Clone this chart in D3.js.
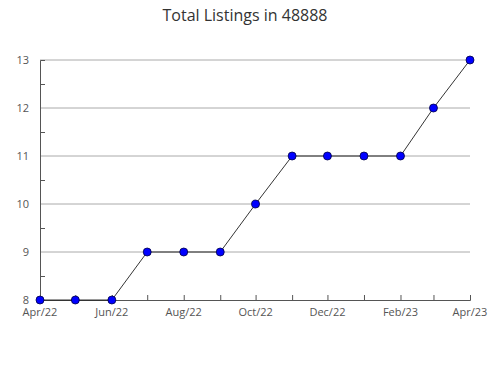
<!DOCTYPE html>
<html>
<head>
<meta charset="utf-8">
<script src="https://cdn.jsdelivr.net/npm/d3@7"></script>
<style>
  body { margin: 0; background: #fff; }
  svg { display: block; font-family: "Open Sans", "DejaVu Sans", sans-serif; }
</style>
</head>
<body>
<svg id="chart" width="490" height="380"></svg>
<script>
const title = "Total Listings in 48888";
const months = ["2022-04","2022-05","2022-06","2022-07","2022-08","2022-09","2022-10",
                "2022-11","2022-12","2023-01","2023-02","2023-03","2023-04"];
const listings = [8, 8, 8, 9, 9, 9, 10, 11, 11, 11, 11, 12, 13];
const yTicks = [8, 9, 10, 11, 12, 13];
const xLabelMonths = ["2022-04","2022-06","2022-08","2022-10","2022-12","2023-02","2023-04"];

const parse = d3.timeParse("%Y-%m");
const data = months.map((m, i) => ({ date: parse(m), value: listings[i] }));

const plotLeft = 40, plotRight = 470, plotTop = 60, plotBottom = 300;
const svg = d3.select("#chart");

const x = d3.scaleTime()
  .domain(d3.extent(data, d => d.date))
  .range([plotLeft, plotRight]);
const y = d3.scaleLinear().domain([8, 13]).range([plotBottom, plotTop]);

svg.append("text")
  .attr("x", 245).attr("y", 21)
  .attr("text-anchor", "middle")
  .attr("font-size", 16).attr("fill", "#333")
  .text(title);

// gridlines
svg.append("g").selectAll("line")
  .data(yTicks.filter(t => t !== 8))
  .join("line")
  .attr("x1", plotLeft).attr("x2", plotRight)
  .attr("y1", d => y(d)).attr("y2", d => y(d))
  .attr("stroke", "#aaa").attr("stroke-width", 1);

// y axis
const yAxis = svg.append("g").attr("transform", `translate(${plotLeft},0)`)
  .call(d3.axisRight(y).tickValues(d3.range(8, 13.01, 0.5)).tickSize(5).tickFormat(""));
yAxis.select(".domain").attr("stroke", "#555");
yAxis.selectAll(".tick line").attr("stroke", "#555")
  .attr("x2", d => Number.isInteger(d) ? 0 : 5);
svg.append("g").selectAll("text")
  .data(yTicks)
  .join("text")
  .attr("x", 29).attr("y", d => y(d) + 4)
  .attr("text-anchor", "end")
  .attr("font-size", 11).attr("fill", "#555")
  .text(d => d);

// x axis
const xAxis = svg.append("g").attr("transform", `translate(0,${plotBottom})`)
  .call(d3.axisTop(x).tickValues(data.map(d => d.date)).tickSize(5).tickFormat(""));
xAxis.select(".domain").attr("stroke", "#555");
xAxis.selectAll(".tick line").attr("stroke", "#555");
svg.append("g").selectAll("text")
  .data(xLabelMonths.map(parse))
  .join("text")
  .attr("x", d => x(d)).attr("y", 316)
  .attr("text-anchor", "middle")
  .attr("font-size", 11).attr("fill", "#555")
  .text(d3.timeFormat("%b/%y"));

// line
svg.append("path")
  .datum(data)
  .attr("fill", "none").attr("stroke", "#000").attr("stroke-width", 0.8)
  .attr("d", d3.line().x(d => x(d.date)).y(d => y(d.value)));

svg.append("g").selectAll("circle")
  .data(data)
  .join("circle")
  .attr("cx", d => x(d.date)).attr("cy", d => y(d.value))
  .attr("r", 4)
  .attr("fill", "#0000ff").attr("stroke", "#000044").attr("stroke-width", 0.8);
</script>
</body>
</html>
